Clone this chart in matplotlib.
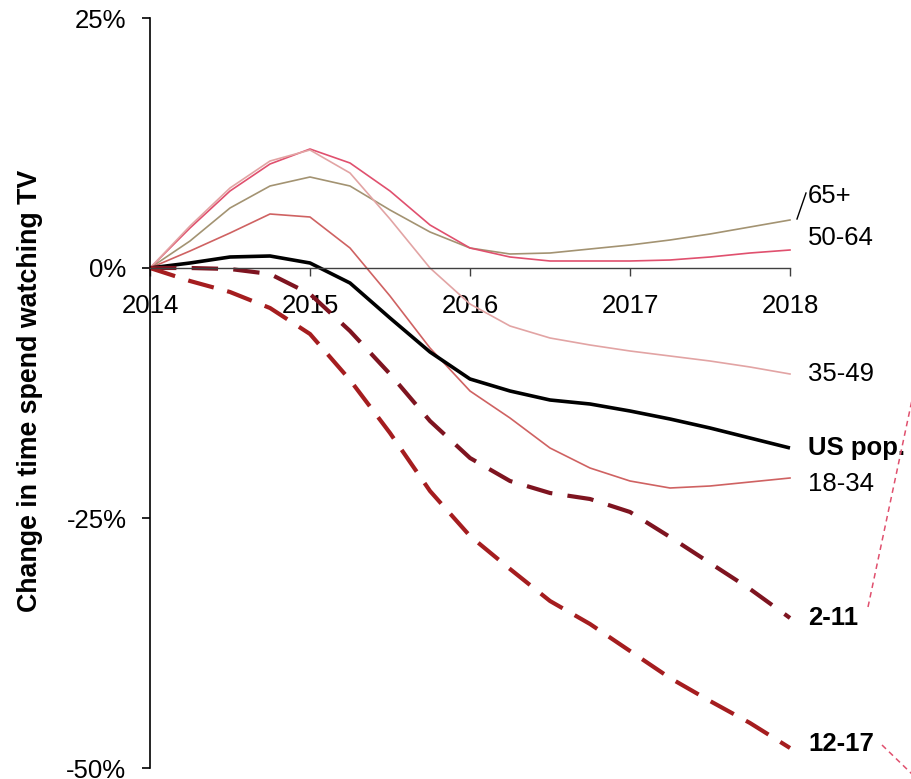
import matplotlib
matplotlib.use("Agg")
import matplotlib.pyplot as plt
from matplotlib.lines import Line2D

plt.rcParams['font.family'] = ['Liberation Sans', 'DejaVu Sans']
plt.rcParams['lines.scale_dashes'] = False

# ---- data ----
years = [2014, 2014.25, 2014.5, 2014.75, 2015, 2015.25, 2015.5, 2015.75, 2016,
         2016.25, 2016.5, 2016.75, 2017, 2017.25, 2017.5, 2017.75, 2018]
age_65 = [0, 2.7, 6.0, 8.2, 9.1, 8.2, 5.8, 3.6, 2.0, 1.4, 1.5, 1.9, 2.3, 2.8, 3.4, 4.1, 4.8]
age_50_64 = [0, 4.0, 7.7, 10.4, 11.9, 10.5, 7.7, 4.3, 2.0, 1.1, 0.7, 0.7, 0.7, 0.8, 1.1, 1.5, 1.8]
age_35_49 = [0, 4.2, 8.0, 10.7, 11.8, 9.5, 4.9, 0.0, -3.6, -5.8, -7.0, -7.7, -8.3, -8.8, -9.3, -9.9, -10.6]
age_18_34 = [0, 1.7, 3.5, 5.4, 5.1, 2.0, -2.8, -8.0, -12.3, -15.0, -18.0, -20.0, -21.3, -22.0, -21.8, -21.4, -21.0]
us_pop = [0, 0.5, 1.1, 1.2, 0.5, -1.5, -5.0, -8.4, -11.1, -12.3, -13.2, -13.6, -14.3, -15.1, -16.0, -17.0, -18.0]
age_2_11 = [0, 0.0, -0.1, -0.6, -2.6, -6.3, -10.6, -15.3, -19.0, -21.3, -22.5, -23.1, -24.4, -26.9, -29.5, -32.1, -35.0]
age_12_17 = [0, -1.3, -2.4, -4.0, -6.6, -11.2, -16.5, -22.3, -26.8, -30.1, -33.3, -35.6, -38.3, -41.0, -43.3, -45.5, -48.0]

series_names = ["65+", "50-64", "35-49", "18-34", "US pop.", "2-11", "12-17"]
x_ticks = [2014, 2015, 2016, 2017, 2018]
y_ticks = [25, 0, -25, -50]
y_tick_labels = ["25%", "0%", "-25%", "-50%"]

# ---- figure ----
fig = plt.figure(figsize=(9.11, 7.79), dpi=100)
ax = fig.add_axes([150/911, 11/779, 640/911, 750/779])
ax.set_xlim(2014, 2018)
ax.set_ylim(-50, 25)

thin = 1.2
ax.plot(years, age_65, color="#A39372", lw=thin, clip_on=False)
ax.plot(years, age_50_64, color="#E0506E", lw=thin, clip_on=False)
ax.plot(years, age_35_49, color="#E2A4A4", lw=thin, clip_on=False)
ax.plot(years, age_18_34, color="#CF6262", lw=thin, clip_on=False)
ax.plot(years, us_pop, color="black", lw=2.6, clip_on=False, solid_capstyle='butt')
ax.plot(years, age_2_11, color="#7E1420", lw=3.0, clip_on=False,
        dashes=(19, 11), dash_capstyle='butt')
ax.plot(years, age_12_17, color="#A51D1F", lw=3.0, clip_on=False,
        dashes=(19, 10), dash_capstyle='butt')

# axes styling
for s in ["top", "right"]:
    ax.spines[s].set_visible(False)
ax.spines["bottom"].set_position(("data", 0))
ax.spines["bottom"].set_color("#404040")
ax.spines["bottom"].set_linewidth(1.0)
ax.spines["left"].set_linewidth(1.2)
ax.set_yticks(y_ticks)
ax.set_yticklabels(y_tick_labels)
ax.set_xticks(x_ticks)
ax.set_xticklabels([str(t) for t in x_ticks])
ax.tick_params(axis="y", direction="out", length=6, width=1.2, labelsize=18.5, pad=11)
ax.tick_params(axis="x", direction="out", length=6, width=1.0, color="#404040",
               labelsize=18.5, pad=13)

# right labels
label_x = 2018.1125
label_y = [7.2, 3.0, -10.6, -21.6, -18.0, -35.0, -47.6]
label_bold = [False, False, False, False, True, True, True]
for name, yy, b in zip(series_names, label_y, label_bold):
    ax.text(label_x, yy, name, fontsize=18.5, fontweight="bold" if b else "normal",
            ha="left", va="center", clip_on=False)

# y-axis title
fig.text(30/911, 1 - 391/779, "Change in time spend watching TV", rotation=90,
         fontsize=19.3, fontweight="bold", ha="center", va="center")

# leader lines
fig.add_artist(Line2D([797/911, 806/911], [1 - 219/779, 1 - 193/779],
                      color="black", lw=1.0))
fig.add_artist(Line2D([868/911, 912/911], [1 - 607/779, 1 - 400/779],
                      color="#E0506E", lw=1.1, dashes=(4, 3)))
fig.add_artist(Line2D([882/911, 913/911], [1 - 745/779, 1 - 775/779],
                      color="#E0506E", lw=1.1, dashes=(4, 3)))

fig.savefig("out.png", dpi=100)
